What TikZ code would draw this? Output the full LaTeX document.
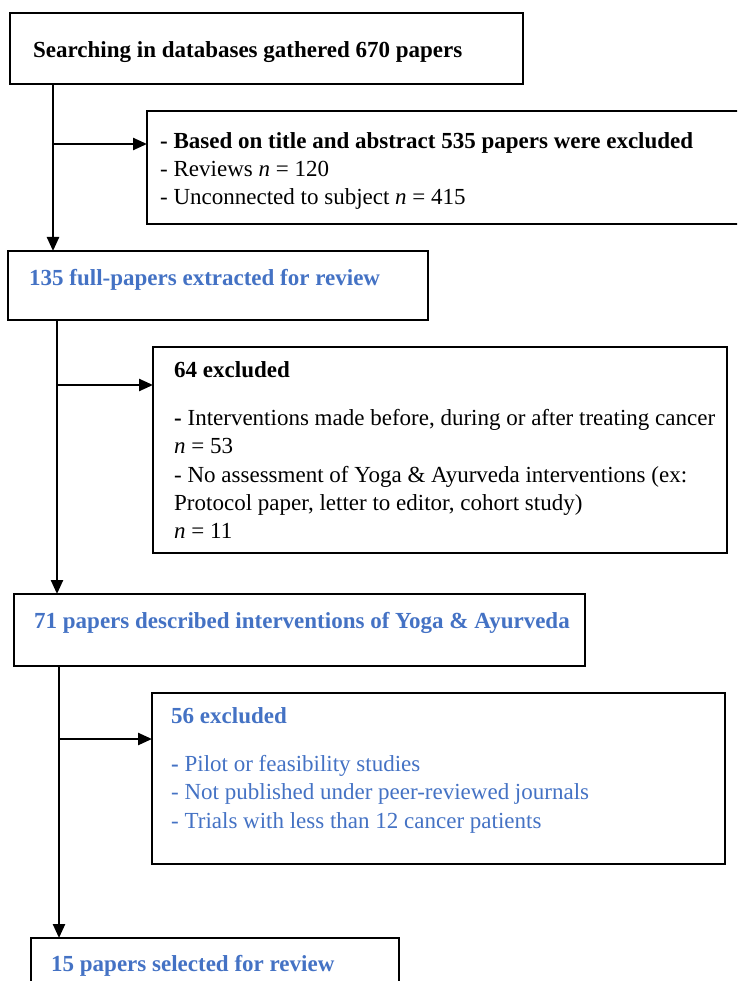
\documentclass[tikz,border=0pt]{standalone}
\usepackage{fontspec}
\setmainfont{Liberation Serif}
\usepackage{tikz}
\usetikzlibrary{arrows.meta}
\definecolor{wordblue}{HTML}{4472C4}

\tikzset{
  box/.style={draw, line width=2.6pt, anchor=north west, inner sep=0pt, outer sep=0pt},
  txt/.style={anchor=base west, align=left, inner sep=0pt, font=\fontsize{23}{28.3}\selectfont},
  lines/.style={txt, anchor=north west},
  flow/.style={line width=2.4pt, -{Triangle[length=14pt,width=12pt]}}
}

\begin{document}
\begin{tikzpicture}[x=1pt,y=-1pt]
\useasboundingbox (0,0) rectangle (737,981);
\clip (0,0) rectangle (737,981);

% boxes
\node[box, minimum width=513pt, minimum height=71pt] (search) at (10,13) {};
\node[box, minimum width=600pt, minimum height=113pt] (titleex) at (147,111) {};
\node[box, minimum width=420pt, minimum height=69pt] (fulltext) at (8,251) {};
\node[box, minimum width=574pt, minimum height=206pt] (fullex) at (153,347) {};
\node[box, minimum width=571pt, minimum height=72pt] (described) at (14,594) {};
\node[box, minimum width=573pt, minimum height=171pt] (descex) at (152,693) {};
\node[box, minimum width=368pt, minimum height=80pt] (selected) at (31,938) {};

% texts (multi-line ones hang from the top of the first line)
\node[txt] (searchtxt) at (33,58) {\textbf{Searching in databases gathered 670 papers}};
\node[lines] (titleextxt) at (160,132) {\textbf{- Based on title and abstract 535 papers were excluded}\\
  - Reviews \textit{n} = 120\\
  - Unconnected to subject \textit{n} = 415};
\node[txt, text=wordblue] (fulltexttxt) at (29,285) {\textbf{135 full-papers extracted for review}};
\node[lines] (fullextxt) at (174,361) {\textbf{64 excluded}\\[20pt]
  \textbf{-} Interventions made before, during or after treating cancer\\
  \textit{n} = 53\\
  - No assessment of Yoga \& Ayurveda interventions (ex:\\
  Protocol paper, letter to editor, cohort study)\\
  \textit{n} = 11};
\node[txt, text=wordblue] (describedtxt) at (34,628) {\textbf{71 papers described interventions of Yoga \& Ayurveda}};
\node[lines, text=wordblue] (descextxt) at (171,707) {\textbf{56 excluded}\\[20pt]
  \textbf{-} Pilot or feasibility studies\\
  - Not published under peer-reviewed journals\\
  - Trials with less than 12 cancer patients};
\node[txt, text=wordblue] (selectedtxt) at (51,971) {\textbf{15 papers selected for review}};

% connectors
\coordinate (t1) at (search.south west -| 53,0);
\coordinate (j1) at (53,144);
\coordinate (t2) at (fulltext.south west -| 57,0);
\coordinate (j2) at (57,385);
\coordinate (t3) at (described.south west -| 59,0);
\coordinate (j3) at (59,739);

\draw[flow] (t1) -- (t1 |- fulltext.north);
\draw[flow] (j1) -- (j1 -| titleex.west);
\draw[flow] (t2) -- (t2 |- described.north);
\draw[flow] (j2) -- (j2 -| fullex.west);
\draw[flow] (t3) -- (t3 |- selected.north);
\draw[flow] (j3) -- (j3 -| descex.west);
\end{tikzpicture}
\end{document}
